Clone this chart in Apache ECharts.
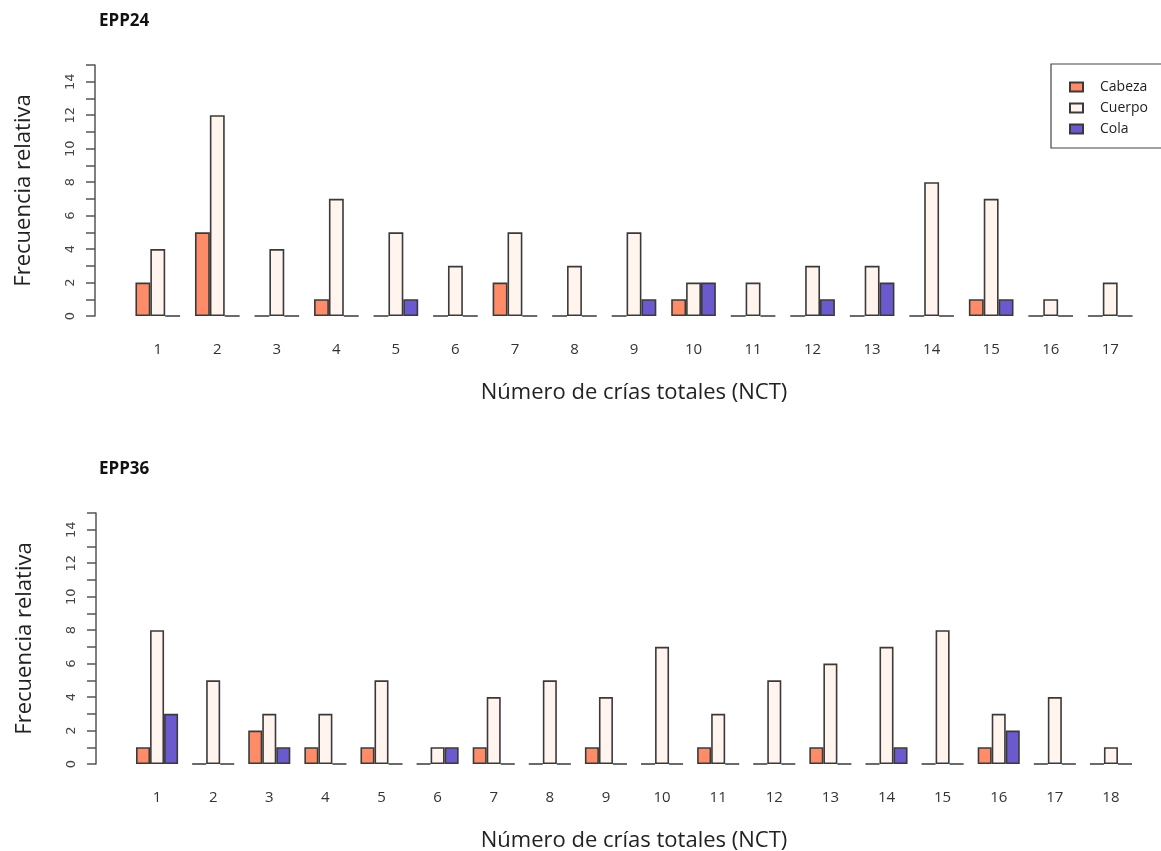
<!DOCTYPE html>
<html><head><meta charset="utf-8">
<script src="https://cdn.jsdelivr.net/npm/echarts@6/dist/echarts.min.js"></script>
<style>html,body{margin:0;padding:0;background:#fff}#c{width:1161px;height:851px}</style>
</head><body><div id="c"></div>
<script>
const categories24 = ['1','2','3','4','5','6','7','8','9','10','11','12','13','14','15','16','17'];
const cabeza24 = [2,5,0,1,0,0,2,0,0,1,0,0,0,0,1,0,0];
const cuerpo24 = [4,12,4,7,5,3,5,3,5,2,2,3,3,8,7,1,2];
const cola24   = [0,0,0,0,1,0,0,0,1,2,0,1,2,0,1,0,0];

const categories36 = ['1','2','3','4','5','6','7','8','9','10','11','12','13','14','15','16','17','18'];
const cabeza36 = [1,0,2,1,1,0,1,0,1,0,1,0,1,0,0,1,0,0];
const cuerpo36 = [8,5,3,3,5,1,4,5,4,7,3,5,6,7,8,3,4,1];
const cola36   = [3,0,1,0,0,1,0,0,0,0,0,0,0,1,0,2,0,0];

const titles = ['EPP24','EPP36'];
const seriesNames = ['Cabeza','Cuerpo','Cola'];
const colors = ['#FF8C69','#FFF5EE','#6A5ACD'];

const FONT = '"Open Sans", "Noto Sans", sans-serif';
const axisCol = '#555';

function yAxisCfg(gi){
  return {
    gridIndex: gi, type:'value', min:0, max:15, interval:1, offset:33,
    name:'Frecuencia relativa', nameLocation:'middle', nameGap:60,
    nameTextStyle:{fontFamily:FONT, fontSize:22, color:'#222'},
    axisLine:{show:true, lineStyle:{color:axisCol, width:1.5}},
    axisTick:{show:true, length:9, lineStyle:{color:axisCol, width:1.5}},
    splitLine:{show:false},
    axisLabel:{rotate:90, margin:18, fontFamily:'"DejaVu Sans", sans-serif', fontSize:13, color:'#444',
      formatter: v => (v % 2 === 0 ? String(v) : '')}
  };
}
function xAxisCfg(gi, cats){
  return {
    gridIndex: gi, type:'category', data: cats,
    name:'Número de crías totales (NCT)', nameLocation:'middle', nameGap:66,
    nameTextStyle:{fontFamily:FONT, fontSize:22, color:'#222'},
    axisLine:{show:false}, axisTick:{show:false},
    axisLabel:{margin:26, fontFamily:FONT, fontSize:15, color:'#333'}
  };
}
function barSeries(gi, arrs){
  return arrs.map((d,i)=>({
    type:'bar', name: seriesNames[i], xAxisIndex: gi, yAxisIndex: gi, data: d,
    barGap:'0%', barCategoryGap:'25%',
    itemStyle:{color: colors[i], borderColor:'#3a3a3a', borderWidth:1.6},
    emphasis:{disabled:true}
  }));
}

const chart = echarts.init(document.getElementById('c'), null, {renderer:'canvas'});
chart.setOption({
  animation:false,
  backgroundColor:'#fff',
  title: [
    {text: titles[0], left: 94, top: 8, textStyle:{fontFamily:FONT, fontSize:17, fontWeight:'bold', color:'#111'}},
    {text: titles[1], left: 94, top: 456, textStyle:{fontFamily:FONT, fontSize:17, fontWeight:'bold', color:'#111'}}
  ],
  legend: {
    data: seriesNames, orient:'vertical', left: 1051, top: 64,
    icon:'rect', itemWidth:13, itemHeight:9, itemGap:7,
    padding:[16, 30, 12, 18],
    borderColor:'#444', borderWidth:1.2,
    textStyle:{fontFamily:FONT, fontSize:14, color:'#222', padding:[0,0,0,12]}
  },
  grid: [
    {left:128, width:1012, top:65, height:251, outerBoundsMode:'none', containLabel:false},
    {left:129, width:1010, top:513, height:251, outerBoundsMode:'none', containLabel:false}
  ],
  xAxis: [xAxisCfg(0, categories24), xAxisCfg(1, categories36)],
  yAxis: [yAxisCfg(0), yAxisCfg(1)],
  series: [...barSeries(0,[cabeza24,cuerpo24,cola24]), ...barSeries(1,[cabeza36,cuerpo36,cola36])]
});
</script></body></html>
